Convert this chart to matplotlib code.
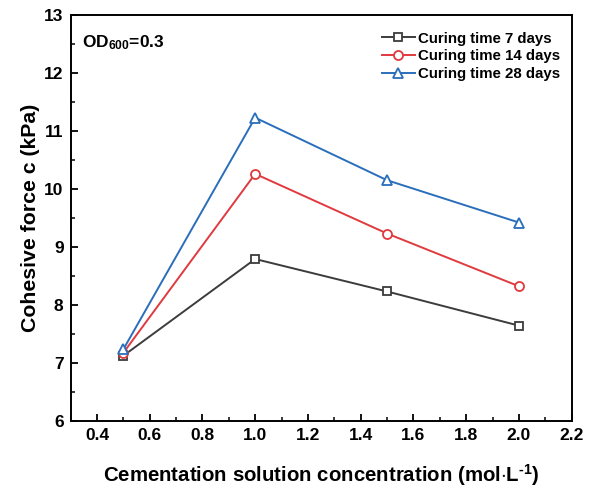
import numpy as np
import matplotlib.pyplot as plt
from matplotlib.ticker import MultipleLocator

plt.rcParams['font.family'] = ['Liberation Sans', 'DejaVu Sans']
plt.rcParams['font.weight'] = 'bold'
plt.rcParams['mathtext.fontset'] = 'custom'
plt.rcParams['mathtext.rm'] = 'Liberation Sans:bold'
plt.rcParams['mathtext.bf'] = 'Liberation Sans:bold'
plt.rcParams['mathtext.default'] = 'bf'

# cementation solution concentration, mol/L
conc = [0.5, 1.0, 1.5, 2.0]
c_7d = [7.12, 8.79, 8.23, 7.64]
c_14d = [7.17, 10.26, 9.23, 8.32]
c_28d = [7.23, 11.23, 10.15, 9.42]

fig = plt.figure(figsize=(5.98, 4.88), dpi=100)
ax = fig.add_axes([0.118, 0.138, 0.838, 0.831])

ax.plot(conc, c_7d, '-s', color='#3c3c3c', mfc='white', ms=5.5, lw=1.4, mew=1.3,
        label='Curing time 7 days')
ax.plot(conc, c_14d, '-o', color='#e0393e', mfc='white', ms=6.5, lw=1.4, mew=1.3,
        label='Curing time 14 days')
ax.plot(conc, c_28d, '-^', color='#2a6ebb', mfc='white', ms=7, lw=1.4, mew=1.3,
        label='Curing time 28 days')

ax.set_xlim(0.3, 2.2)
ax.set_ylim(6, 13)
ax.xaxis.set_major_locator(MultipleLocator(0.2))
ax.xaxis.set_minor_locator(MultipleLocator(0.1))
ax.yaxis.set_major_locator(MultipleLocator(1))
ax.yaxis.set_minor_locator(MultipleLocator(0.5))
ax.tick_params(which='both', direction='in', top=False, right=False, labelsize=12.5)
ax.tick_params(which='major', length=5, width=1.3, pad=5)
ax.tick_params(which='minor', length=3, width=1.1)
ax.set_xticklabels([f'{v:.1f}' for v in ax.get_xticks()])
for s in ax.spines.values():
    s.set_linewidth(1.4)

ax.set_xlabel('Cementation solution concentration (mol$\\cdot$L$^{\\text{-1}}$)',
              fontsize=14.7, fontweight='bold', labelpad=14)
ax.set_ylabel('Cohesive force c (kPa)', fontsize=15.3, fontweight='bold', labelpad=3)

ax.text(0.022, 0.955, 'OD$_{600}$=0.3', transform=ax.transAxes,
        fontsize=12.5, fontweight='bold', va='top', ha='left')

ax.legend(loc='upper right', frameon=False, fontsize=10.8, handlelength=2.2,
          borderaxespad=0.3, labelspacing=0.25, handletextpad=0.2,
          bbox_to_anchor=(0.997, 0.985))

fig.savefig('out.png', dpi=100)
